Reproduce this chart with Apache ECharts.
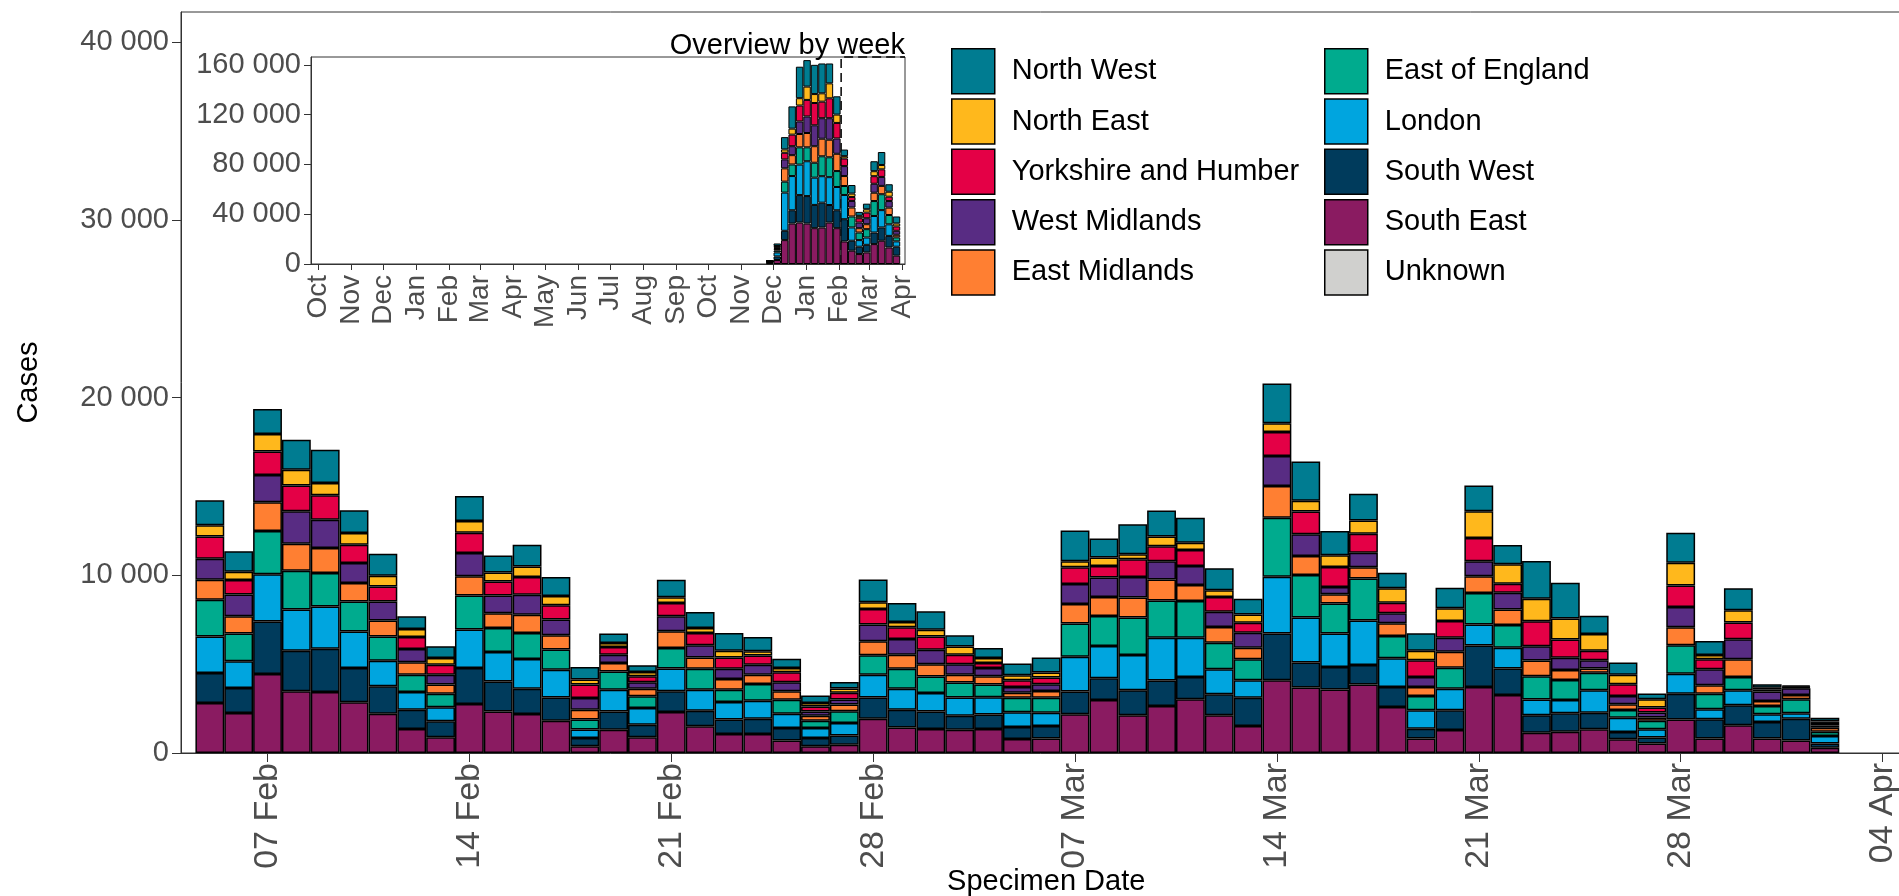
<!DOCTYPE html>
<html><head><meta charset="utf-8">
<script src="https://cdn.jsdelivr.net/npm/echarts@6/dist/echarts.min.js"></script>
<style>html,body{margin:0;padding:0;background:#fff}#c{width:1899px;height:896px}</style>
</head><body><div id="c"></div>
<script>
// ---------- DATA ----------
const regions = ['South East','South West','London','East of England','East Midlands','West Midlands','Yorkshire and Humber','North East','North West','Unknown'];
const regionColors = ['#8A1B61','#003B5C','#00A5DF','#00AB8E','#FF7F32','#582C83','#E40046','#FFB81C','#007C91','#D0D0CE'];
const legendCol1 = ['North West','North East','Yorkshire and Humber','West Midlands','East Midlands'];
const legendCol2 = ['East of England','London','South West','South East','Unknown'];

const dates = ['2021-02-05','2021-02-06','2021-02-07','2021-02-08','2021-02-09','2021-02-10','2021-02-11','2021-02-12','2021-02-13','2021-02-14',
'2021-02-15','2021-02-16','2021-02-17','2021-02-18','2021-02-19','2021-02-20','2021-02-21','2021-02-22','2021-02-23','2021-02-24',
'2021-02-25','2021-02-26','2021-02-27','2021-02-28','2021-03-01','2021-03-02','2021-03-03','2021-03-04','2021-03-05','2021-03-06',
'2021-03-07','2021-03-08','2021-03-09','2021-03-10','2021-03-11','2021-03-12','2021-03-13','2021-03-14','2021-03-15','2021-03-16',
'2021-03-17','2021-03-18','2021-03-19','2021-03-20','2021-03-21','2021-03-22','2021-03-23','2021-03-24','2021-03-25','2021-03-26',
'2021-03-27','2021-03-28','2021-03-29','2021-03-30','2021-03-31','2021-04-01','2021-04-02'];

const southEast = [2810,2250,4440,3470,3430,2850,2210,1350,880,2760,2340,2190,1820,380,1310,880,2310,1500,1070,1070,710,380,470,1930,1440,1350,1310,1350,790,810,2180,2980,2120,2640,3020,2120,1520,4090,3680,3580,3860,2590,810,1290,3710,3260,1140,1200,1330,770,530,1890,810,1560,810,710,300];
const southWest = [1690,1410,2960,2290,2440,1930,1540,1090,900,2030,1690,1430,1310,470,1030,710,1160,880,810,860,690,470,510,1200,990,990,790,810,680,710,1280,1220,1410,1440,1260,1180,1590,2640,1410,1260,1090,1130,560,1110,2340,1500,990,1030,940,410,340,1440,1090,1130,940,1220,240];
const london = [2060,1500,2660,2310,2380,2060,1440,990,790,2160,1650,1670,1560,470,1220,940,1280,1180,990,1010,810,560,710,1280,1180,1030,1030,980,830,750,1950,1820,1990,2400,2210,1410,980,3190,2530,1890,2510,1610,1030,1220,1180,1160,880,750,1260,810,470,1130,560,840,430,300,410];
const eastOfEngland = [2060,1560,2440,2190,1880,1690,1370,980,770,1910,1350,1460,1130,560,1030,660,1160,1180,690,940,790,410,660,1090,1130,940,840,710,810,840,1880,1690,2100,2100,2060,1500,1180,3320,2400,1690,2360,1260,810,1180,1780,1280,1310,1130,990,430,470,1610,880,750,470,790,240];
const eastMidlands = [1130,980,1610,1520,1410,1030,900,690,510,1090,840,1030,810,560,470,430,940,640,600,530,470,280,380,790,790,690,430,470,280,380,1090,1070,1130,1180,900,880,660,1780,1070,510,640,710,510,900,940,880,880,560,230,320,190,1010,470,990,280,240,230];
const westMidlands = [1180,1220,1540,1820,1590,1130,1070,750,560,1310,990,1130,880,660,470,360,840,680,580,560,510,240,280,940,880,810,600,470,320,380,1130,1090,1160,1030,1070,860,840,1690,1220,410,810,560,560,790,840,940,810,690,470,470,280,1130,900,1130,530,380,130];
const yorkshireHumber = [1260,810,1310,1460,1370,1030,840,680,560,1130,790,990,810,750,430,340,750,690,640,510,560,280,380,880,660,750,530,280,380,380,940,660,990,840,900,830,560,1350,1280,1130,1070,600,940,940,1310,510,1410,1030,530,660,280,1220,560,940,120,60,140];
const northEast = [620,470,990,880,690,660,600,450,380,660,510,600,510,280,230,240,320,280,380,240,240,190,240,380,300,380,470,280,280,280,340,470,280,560,410,380,470,490,600,660,750,810,530,710,1500,1090,1260,1180,940,530,470,1280,240,690,90,40,90];
const northWest = [1410,1160,1410,1690,1880,1280,1240,710,660,1410,960,1220,1070,710,530,380,990,900,990,810,530,430,360,1280,1070,1030,620,560,660,840,1730,1070,1690,1460,1410,1240,880,2250,2210,1370,1500,880,990,1160,1460,1090,2120,2010,1030,690,320,1690,790,1240,200,70,200];
const unknown = [0,0,0,0,0,0,0,0,0,0,0,0,0,0,0,0,0,0,0,0,0,0,0,0,0,0,0,0,0,0,0,0,0,0,0,0,0,0,0,0,0,0,0,0,0,0,0,0,0,0,0,0,0,0,0,0,0];

const mainAxisRange = ['2021-02-04','2021-04-05'];
const mainTickDates = ['2021-02-07','2021-02-14','2021-02-21','2021-02-28','2021-03-07','2021-03-14','2021-03-21','2021-03-28','2021-04-04'];
const mainTickLabels = ['07 Feb','14 Feb','21 Feb','28 Feb','07 Mar','14 Mar','21 Mar','28 Mar','04 Apr'];
const mainYTicks = [0,10000,20000,30000,40000];

// weekly overview (inset)
const weeks = ['2020-11-28','2020-12-05','2020-12-12','2020-12-19','2020-12-26','2021-01-02','2021-01-09','2021-01-16','2021-01-23','2021-01-30',
'2021-02-06','2021-02-13','2021-02-20','2021-02-27','2021-03-06','2021-03-13','2021-03-20','2021-03-27'];
const wkSouthEast = [600,3200,19200,32500,33300,32500,28800,29300,33300,28800,18100,10700,8000,9300,16000,18700,13300,6700];
const wkSouthWest = [500,2900,7500,10700,22100,22100,18700,20000,14100,14400,17900,8000,5900,6100,9300,10700,9300,7200];
const wkLondon = [500,3200,30700,27500,24500,28000,21900,21300,22400,18700,19500,10700,5300,5900,13300,13900,9300,4300];
const wkEastOfEngland = [300,1500,8800,9300,13900,11200,12000,16000,16000,12800,7200,8800,6100,6700,12000,12800,7500,3200];
const wkEastMidlands = [200,1200,10700,7500,10700,11500,13300,14100,14100,13900,8000,7200,3500,4000,6700,6700,5900,2100];
const wkWestMidlands = [150,1000,7200,7200,10100,13300,16800,16500,17300,12300,8000,5300,4500,4800,7200,7200,5300,3200];
const wkYorkshireHumber = [100,1000,5300,9300,12800,13300,17900,13300,16000,12500,6100,3200,3500,4500,6100,6100,3500,3500];
const wkNorthEast = [50,500,2700,4800,5900,10700,7200,6700,12000,6700,1900,2700,1900,2700,4000,3500,4000,2400];
const wkNorthWest = [100,2000,9900,17900,25300,21300,23500,24000,16000,14700,5300,6900,3200,4500,8000,10400,6000,5600];
const wkUnknown = [0,0,0,0,0,0,0,0,0,0,0,0,0,0,0,0,0,0];

const insetAxisRange = ['2019-09-24','2021-04-04'];
const insetTickDates = ['2019-10-01','2019-11-01','2019-12-01','2020-01-01','2020-02-01','2020-03-01','2020-04-01','2020-05-01','2020-06-01','2020-07-01',
'2020-08-01','2020-09-01','2020-10-01','2020-11-01','2020-12-01','2021-01-01','2021-02-01','2021-03-01','2021-04-01'];
const insetTickLabels = ['Oct','Nov','Dec','Jan','Feb','Mar','Apr','May','Jun','Jul','Aug','Sep','Oct','Nov','Dec','Jan','Feb','Mar','Apr'];
const insetYTicks = [0,40000,80000,120000,160000];
const focusStart = '2021-02-03';

// ---------- BUILD ----------
const DAY = 86400000;
const T = s => { const p = s.split('-').map(Number); return Date.UTC(p[0], p[1]-1, p[2]); };
const iso = t => new Date(t).toISOString().slice(0, 10);
const dayList = (a, b) => { const out = []; for (let t = T(a); t <= T(b); t += DAY) out.push(iso(t)); return out; };
const FONT = "'Liberation Sans', Arial, sans-serif";
const fmtNum = v => String(v).replace(/\B(?=(\d{3})+(?!\d))/g, ' ');

const mainCats = dayList(mainAxisRange[0], mainAxisRange[1]);
const insetCats = dayList(insetAxisRange[0], insetAxisRange[1]);

const dailyVals = [southEast, southWest, london, eastOfEngland, eastMidlands, westMidlands, yorkshireHumber, northEast, northWest, unknown];
const weeklyVals = [wkSouthEast, wkSouthWest, wkLondon, wkEastOfEngland, wkEastMidlands, wkWestMidlands, wkYorkshireHumber, wkNorthEast, wkNorthWest, wkUnknown];

const spread = (cats, keys, vals) => cats.map(c => { const k = keys.indexOf(c); return (k >= 0 && vals[k] > 0) ? vals[k] : null; });

// layout
const W = 1899, H = 896;
const DAYPX = 28.84;
const mainGrid = {left: 181, top: 12, width: (mainCats.length - 1) * DAYPX, bottom: 143};
const mainBarW = mainGrid.width / (mainCats.length - 1);
const mainYMax = 41700;

const insetGrid = {left: 311, top: 57, width: 594, height: 207};
const insetBarW = insetGrid.width / (insetCats.length - 1) * 7;
const insetYMax = 166400;

const isMainTick = (i, v) => mainTickDates.indexOf(v) >= 0;
const isInsetTick = (i, v) => insetTickDates.indexOf(v) >= 0;

const series = [];
regions.forEach((r, i) => {
  series.push({
    name: r, type: 'bar', stack: 'daily', xAxisIndex: 0, yAxisIndex: 0,
    barWidth: mainBarW,
    data: spread(mainCats, dates, dailyVals[i]),
    itemStyle: {color: regionColors[i], borderColor: '#000', borderWidth: 1.5},
    emphasis: {disabled: true}
  });
});
regions.forEach((r, i) => {
  series.push({
    name: r, type: 'bar', stack: 'weekly', xAxisIndex: 1, yAxisIndex: 1,
    barWidth: insetBarW,
    data: spread(insetCats, weeks, weeklyVals[i]),
    itemStyle: {color: regionColors[i], borderColor: '#000', borderWidth: 1},
    emphasis: {disabled: true}
  });
});
// dashed outline of the period shown in the main panel
const fIdx = insetCats.indexOf(focusStart), lastIdx = insetCats.length - 1;
series.push({
  name: 'focus', type: 'line', xAxisIndex: 1, yAxisIndex: 1, z: 1, silent: true,
  symbol: 'none', clip: false,
  lineStyle: {color: '#000', width: 1.5, type: [9, 5]},
  data: [[fIdx, 0], [fIdx, insetYMax], [lastIdx, insetYMax]]
});

const legendBase = {
  orient: 'vertical', itemWidth: 43, itemHeight: 45, itemGap: 3.8, icon: 'rect', padding: 0,
  itemStyle: {borderColor: '#000', borderWidth: 1.5},
  textStyle: {fontSize: 29, color: '#000', fontFamily: FONT, padding: [0, 0, 0, 12]}
};

const option = {
  animation: false,
  backgroundColor: '#fff',
  textStyle: {fontFamily: FONT},
  title: {text: 'Overview by week', right: W - (insetGrid.left + insetGrid.width), top: 31, padding: 0,
    textStyle: {fontSize: 29, fontWeight: 'normal', color: '#000', fontFamily: FONT}},
  legend: [
    Object.assign({}, legendBase, {data: legendCol1, left: 951, top: 48}),
    Object.assign({}, legendBase, {data: legendCol2, left: 1324, top: 48})
  ],
  grid: [
    Object.assign({show: true, borderColor: '#333', borderWidth: 1, backgroundColor: '#fff', containLabel: false, outerBoundsMode: 'none'}, mainGrid),
    Object.assign({show: true, borderColor: '#333', borderWidth: 1, backgroundColor: '#fff', containLabel: false, outerBoundsMode: 'none'}, insetGrid)
  ],
  xAxis: [
    {
      type: 'category', gridIndex: 0, data: mainCats, boundaryGap: false,
      axisLine: {show: true, onZero: false, lineStyle: {color: '#333', width: 1}},
      axisTick: {show: true, length: 9, interval: isMainTick, lineStyle: {color: '#333'}},
      axisLabel: {interval: isMainTick, formatter: v => mainTickLabels[mainTickDates.indexOf(v)] || '',
        rotate: 90, fontSize: 34, color: '#4D4D4D', margin: 10, fontFamily: FONT},
      splitLine: {show: false},
      name: 'Specimen Date', nameLocation: 'middle', nameGap: 114, nameMoveOverlap: false,
      nameTextStyle: {fontSize: 29, color: '#000', fontFamily: FONT}
    },
    {
      type: 'category', gridIndex: 1, data: insetCats, boundaryGap: false,
      axisLine: {show: true, onZero: false, lineStyle: {color: '#333', width: 1}},
      axisTick: {show: true, length: 6, interval: isInsetTick, lineStyle: {color: '#333'}},
      axisLabel: {interval: isInsetTick, formatter: v => insetTickLabels[insetTickDates.indexOf(v)] || '',
        rotate: 90, fontSize: 28, color: '#4D4D4D', margin: 11, fontFamily: FONT},
      splitLine: {show: false}
    }
  ],
  yAxis: [
    {
      type: 'value', gridIndex: 0, min: 0, max: mainYMax,
      axisLine: {show: true, onZero: false, lineStyle: {color: '#333', width: 1}},
      axisTick: {show: true, length: 9, lineStyle: {color: '#333'}, customValues: mainYTicks},
      axisLabel: {customValues: mainYTicks, formatter: fmtNum, fontSize: 29, color: '#4D4D4D', margin: 12, fontFamily: FONT},
      splitLine: {show: false},
      name: 'Cases', nameLocation: 'middle', nameRotate: 90, nameGap: 138, nameMoveOverlap: false,
      nameTextStyle: {fontSize: 29, color: '#000', fontFamily: FONT}
    },
    {
      type: 'value', gridIndex: 1, min: 0, max: insetYMax,
      axisLine: {show: true, onZero: false, lineStyle: {color: '#333', width: 1}},
      axisTick: {show: true, length: 7, lineStyle: {color: '#333'}, customValues: insetYTicks},
      axisLabel: {customValues: insetYTicks, formatter: fmtNum, fontSize: 29, color: '#4D4D4D', margin: 10, fontFamily: FONT},
      splitLine: {show: false}
    }
  ],
  series: series
};

const chart = echarts.init(document.getElementById('c'), null, {renderer: 'canvas', width: W, height: H});
chart.setOption(option);
</script>
</body></html>
